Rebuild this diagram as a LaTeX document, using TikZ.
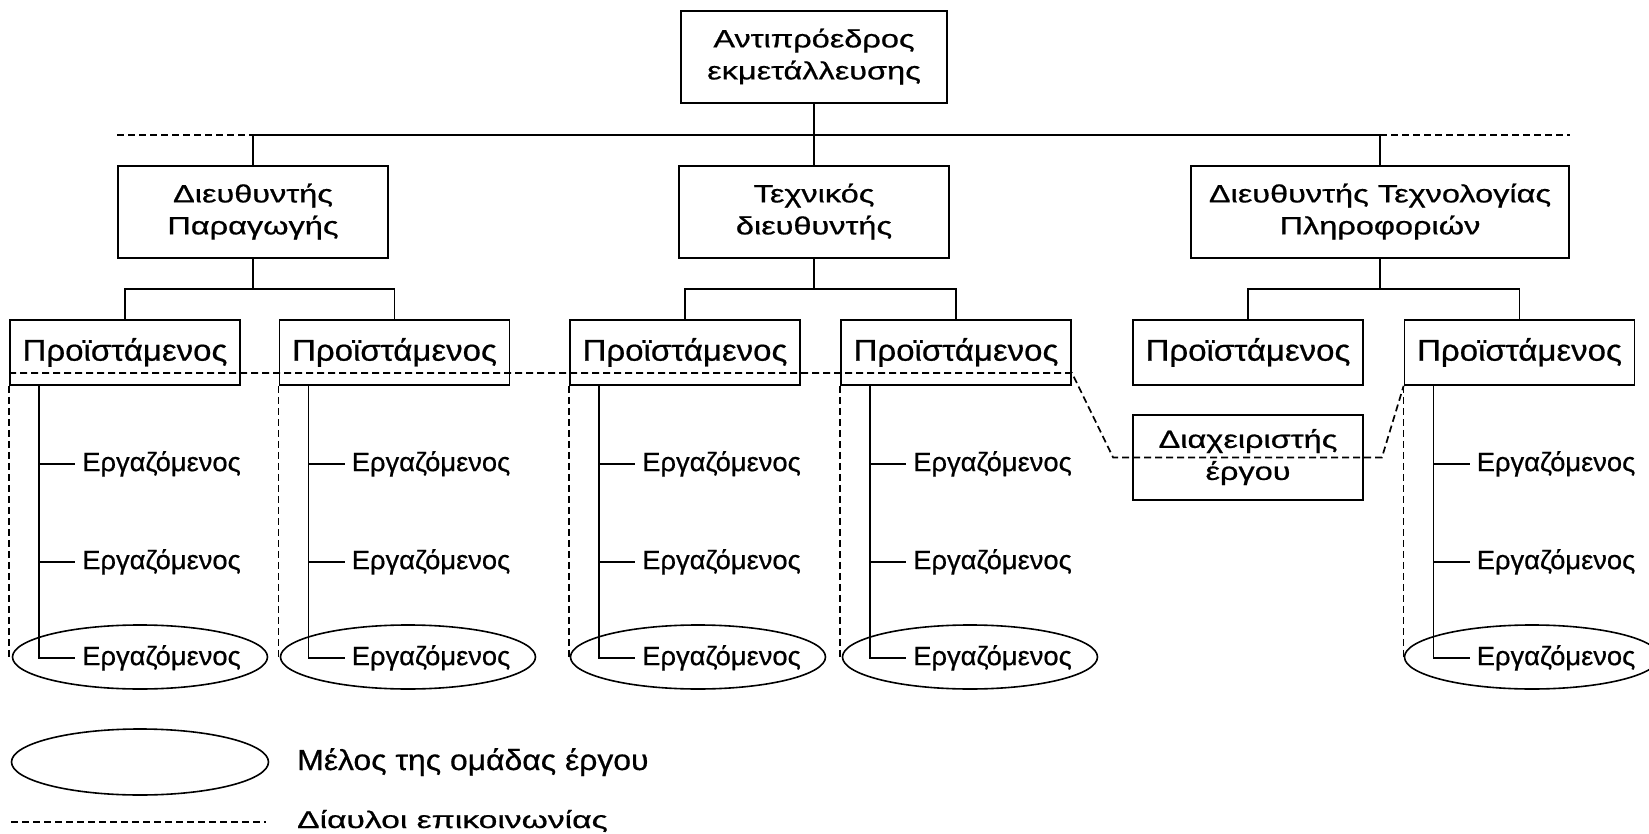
\documentclass[tikz,border=0pt]{standalone}
\usepackage{fontspec}
\setmainfont{Liberation Sans}[FakeBold=0.6]
\usetikzlibrary{shapes.geometric,calc}
\newcommand{\hstretch}[2]{\scalebox{#1}[1]{#2}}
\newcommand{\twolines}[2]{\hstretch{1.3}{\begin{tabular}{@{}c@{}}#1\\#2\end{tabular}}}
\begin{document}
\begin{tikzpicture}[x=1pt,y=-1pt,
  box/.style={draw,line width=1.8pt,inner sep=0pt,font=\fontsize{25}{32}\selectfont},
  chief/.style={draw,line width=1.8pt,inner sep=0pt,minimum width=230pt,minimum height=65pt,font=\fontsize{30}{36}\selectfont},
  staff/.style={anchor=west,inner xsep=7pt,inner ysep=0pt,font=\fontsize{26.5}{30}\selectfont},
  member/.style={ellipse,draw,line width=1.6pt,minimum width=255pt,minimum height=64pt,inner sep=0pt},
  link/.style={line width=1.3pt},
  channel/.style={line width=1.7pt,dash pattern=on 7pt off 4pt}]
\useasboundingbox[fill=white] (0,0) rectangle (1649,834);

% management levels
\node[box,minimum width=266pt,minimum height=92pt] (vp) at (814,57) {\twolines{Αντιπρόεδρος}{εκμετάλλευσης}};
\node[box,minimum width=270pt,minimum height=92pt] (d1) at (253,212) {\twolines{Διευθυντής}{Παραγωγής}};
\node[box,minimum width=270pt,minimum height=92pt] (d2) at (814,212) {\twolines{Τεχνικός}{διευθυντής}};
\node[box,minimum width=378pt,minimum height=92pt] (d3) at (1380,212) {\twolines{Διευθυντής Τεχνολογίας}{Πληροφοριών}};
\node[box,minimum width=230pt,minimum height=85pt] (pm) at (1248,457.5) {\twolines{Διαχειριστής}{έργου}};

\foreach \n/\x in {p1/125,p2/394.5,p3/685,p4/956,p5/1248,p6/1519.5}
  \node[chief] (\n) at (\x,352.5) {\hstretch{1.1}{Προϊστάμενος}};

% project team members
\foreach \n/\x in {e1/140,e2/408,e3/698,e4/970,e6/1532}
  \node[member] (\n) at (\x,657) {};

% reporting lines
\coordinate (bus) at (814,135);
\draw[link] (vp.south) -- (d2.north);
\draw[link] (d1.north) -- (d1.north |- bus) -- (d3.north |- bus) -- (d3.north);
\draw[channel] (d1.north west |- bus) -- (d1.north |- bus);
\draw[channel] (d3.north |- bus) -- (d3.north east |- bus);

\foreach \d/\a/\b in {d1/p1/p2,d2/p3/p4,d3/p5/p6}{
  \draw[link] (\d.south) -- ++(0,30) coordinate (\d-j);
  \draw[link] (\a.north) |- (\d-j) -| (\b.north);
}

% employees under each supervisor
\foreach \p in {p1,p2,p3,p4,p6}{
  \coordinate (\p-top) at ($(\p.south west)+(30,0)$);
  \node[staff] (\p-w1) at ($(\p.south west)+(66,78)$) {\hstretch{1.03}{Εργαζόμενος}};
  \node[staff] (\p-w2) at ($(\p.south west)+(66,176)$) {\hstretch{1.03}{Εργαζόμενος}};
  \node[staff] (\p-w3) at ($(\p.south west)+(66,272)$) {\hstretch{1.03}{Εργαζόμενος}};
  \draw[link] (\p-top) |- (\p-w3.west);
  \draw[link] (\p-top |- \p-w1.west) -- (\p-w1.west);
  \draw[link] (\p-top |- \p-w2.west) -- (\p-w2.west);
}

% communication channels
\draw[channel] ($(p1.south west)+(0,-13)$) -- ($(p4.south east)+(0,-13)$)
  -- ($(pm.west)+(-19,0)$) -- ($(pm.east)+(18,0)$) -- (p6.south west);
\foreach \p/\e in {p1/e1,p2/e2,p3/e3,p4/e4,p6/e6}
  \draw[channel] (\p.south west) -- (\p.south west |- \e.west);

% key
\node[member,minimum width=257pt,minimum height=66pt] (key) at (140,762) {};
\node[anchor=base west,inner sep=0pt,font=\fontsize{29}{32}\selectfont] (keytext) at (297,770) {\hstretch{1.1}{Μέλος της ομάδας έργου}};
\coordinate (ka) at (11,822);
\coordinate (kb) at (266,822);
\draw[channel] (ka) -- (kb);
\node[anchor=base west,inner sep=0pt,font=\fontsize{24}{28}\selectfont] (chtext) at (297,828) {\hstretch{1.4}{Δίαυλοι επικοινωνίας}};
\end{tikzpicture}
\end{document}
